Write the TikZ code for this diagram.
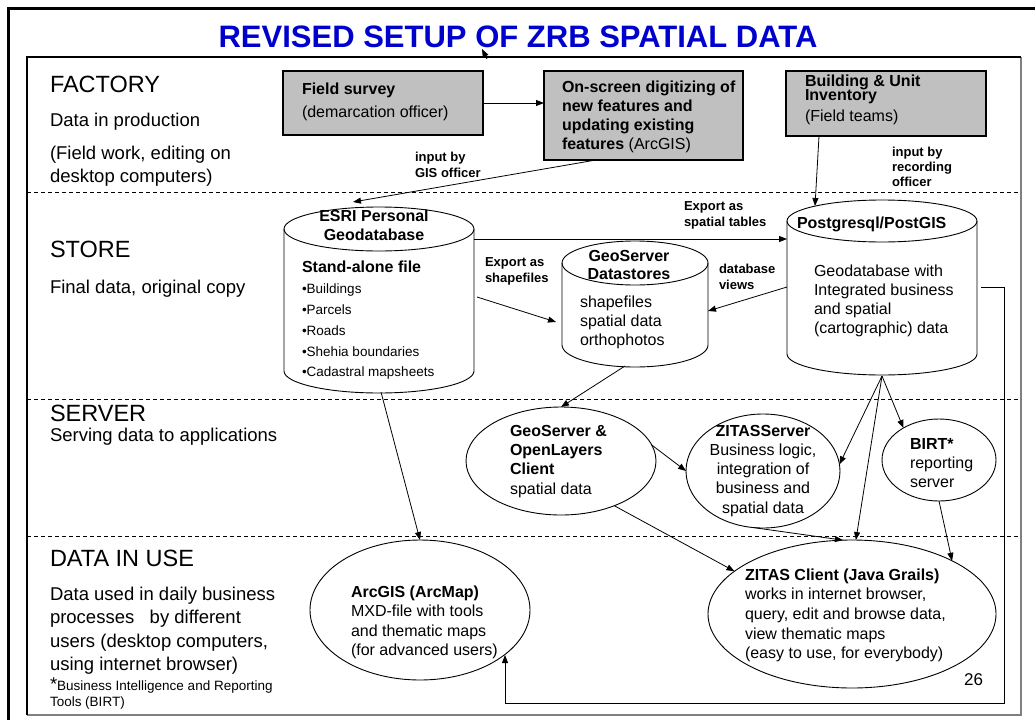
\documentclass[tikz,border=0pt]{standalone}
\usepackage{fontspec}
\setmainfont{Liberation Sans}
\usetikzlibrary{arrows.meta,shapes.geometric}
\newcommand\fsz[1]{\fontsize{#1}{#1}\selectfont}
\definecolor{ttlblue}{RGB}{0,0,204}
\definecolor{boxgray}{RGB}{192,192,192}
\definecolor{edgegray}{RGB}{128,128,128}
\newcommand\mycyl[5]{%
  \filldraw[fill=white, line width=0.9pt] (#1-#4,#2) -- (#1-#4,#3) arc[start angle=180,end angle=0,x radius=#4,y radius=#5] -- (#1+#4,#2);
  \draw[line width=0.9pt] (#1,#2) ellipse[x radius=#4, y radius=#5];}
\begin{document}
\begin{tikzpicture}[x=1pt,y=-1pt,
  txt/.style={inner sep=0, outer sep=0, anchor=base west},
  hdr/.style={txt, font=\fsz{23.5}},
  sub/.style={txt, font=\fsz{18.5}},
  small/.style={txt, font=\fsz{13.5}},
  t16/.style={txt, font=\fsz{16}},
  b16/.style={txt, font=\fsz{16}\bfseries},
  b13/.style={txt, font=\fsz{13}\bfseries},
  ttl/.style={inner sep=0, anchor=base, font=\fsz{31}\bfseries, text=ttlblue},
  graybox/.style={draw, fill=boxgray, inner sep=0, outer sep=0, line width=1.1pt},
  ell/.style={draw, ellipse, inner sep=0, outer sep=0, line width=0.9pt},
  dline/.style={dash pattern=on 4pt off 3pt, line width=0.8pt},
  arr/.style={line width=0.8pt, -{Triangle[length=8pt,width=6pt]}}]
\useasboundingbox (0,0) rectangle (1035,720);
\fill[white] (0,0) rectangle (1035,720);
% frames
\draw[line width=3pt] (8,720) -- (8,8) -- (1035,8);
\draw[edgegray, line width=2pt] (1021,57) -- (1021,715) -- (27,715);
\draw[line width=1.2pt] (27,715) -- (27,57) -- (1021,57);
\foreach \yy in {192,399,536} \draw[dline] (27,\yy) -- (1021,\yy);
% title
\node[ttl] (title) at (518,47) {REVISED SETUP OF ZRB SPATIAL DATA};
\coordinate (sa1) at (487,59);
\coordinate (sa2) at (482,49);
\draw[arr] (sa1) -- (sa2);
% left labels
\node[hdr] (hF) at (50,92) {FACTORY};
\node[sub] (sF1) at (50,126) {Data in production};
\node[sub] (sF2) at (50,159) {(Field work, editing on};
\node[sub] (sF3) at (50,182) {desktop computers)};
\node[hdr] (hS) at (50,257) {STORE};
\node[sub] (sS1) at (50,293) {Final data, original copy};
\node[hdr] (hV) at (50,421) {SERVER};
\node[sub] (sV1) at (50,441) {Serving data to applications};
\node[hdr] (hU) at (50,566) {DATA IN USE};
\node[sub] (sU1) at (50,600) {Data used in daily business};
\node[sub] (sU2) at (50,623) {processes\ \ \ by different};
\node[sub] (sU3) at (50,647) {users (desktop computers,};
\node[sub] (sU4) at (50,670) {using internet browser)};
\node[small] (fn1) at (50,690) {{\fsz{18.5}*}Business Intelligence and Reporting};
\node[small] (fn2) at (50,706) {Tools (BIRT)};
% factory boxes
\node[graybox, minimum width=200pt, minimum height=64pt] (fs) at (383,103) {};
\node[graybox, minimum width=199pt, minimum height=89pt] (os) at (643.5,115.5) {};
\node[graybox, minimum width=200pt, minimum height=65pt] (bu) at (886,103.5) {};
\node[b16] (fsT1) at (302,94) {Field survey};
\node[t16] (fsT2) at (302,117) {(demarcation officer)};
\node[b16] (osT1) at (562,92) {On-screen digitizing of};
\node[b16] (osT2) at (562,111) {new features and};
\node[b16] (osT3) at (562,130) {updating existing};
\node[b16] (osT4) at (562,149) {features {\mdseries (ArcGIS)}};
\node[b16] (buT1) at (805,86) {Building \& Unit};
\node[b16] (buT2) at (805,100) {Inventory};
\node[t16] (buT3) at (805,121) {(Field teams)};
% cylinders
\mycyl{379}{229}{371}{95}{22}
\mycyl{635}{263}{345}{73}{22}
\mycyl{882}{221}{354}{95}{21}
\node[b16, anchor=base] (esT1) at (374,221) {ESRI Personal};
\node[b16, anchor=base] (esT2) at (374,240) {Geodatabase};
\node[b16] (esT3) at (302,272) {Stand-alone file};
\node[small] (esB1) at (302,293) {\textbullet Buildings};
\node[small] (esB2) at (302,314) {\textbullet Parcels};
\node[small] (esB3) at (302,335) {\textbullet Roads};
\node[small] (esB4) at (302,356) {\textbullet Shehia boundaries};
\node[small] (esB5) at (302,376) {\textbullet Cadastral mapsheets};
\node[b16, anchor=base] (gdT1) at (629,261) {GeoServer};
\node[b16, anchor=base] (gdT2) at (629,279) {Datastores};
\node[t16] (gdT3) at (580,307) {shapefiles};
\node[t16] (gdT4) at (580,326) {spatial data};
\node[t16] (gdT5) at (580,345) {orthophotos};
\node[b16] (pgT1) at (797,228) {Postgresql/PostGIS};
\node[t16] (pgT2) at (814,276) {Geodatabase with};
\node[t16] (pgT3) at (814,295) {Integrated business};
\node[t16] (pgT4) at (814,314) {and spatial};
\node[t16] (pgT5) at (814,333) {(cartographic) data};
% ellipses
\node[ell, minimum width=190pt, minimum height=108pt] (gol) at (561,461) {};
\node[ell, minimum width=154pt, minimum height=114pt] (zs) at (763,471) {};
\node[ell, minimum width=114pt, minimum height=82pt] (birt) at (939,460) {};
\node[ell, minimum width=220pt, minimum height=140pt] (arc) at (420,610) {};
\node[ell, minimum width=288pt, minimum height=148pt] (zc) at (852,614) {};
\node[b16] (golT1) at (510,436) {GeoServer \&};
\node[b16] (golT2) at (510,455) {OpenLayers};
\node[b16] (golT3) at (510,474) {Client};
\node[t16] (golT4) at (510,494) {spatial data};
\node[b16, anchor=base] (zsT1) at (763,436) {ZITASServer};
\node[t16, anchor=base] (zsT2) at (763,455) {Business logic,};
\node[t16, anchor=base] (zsT3) at (763,474) {integration of};
\node[t16, anchor=base] (zsT4) at (763,493) {business and};
\node[t16, anchor=base] (zsT5) at (763,513) {spatial data};
\node[b16] (birtT1) at (910,449) {BIRT*};
\node[t16] (birtT2) at (910,468) {reporting};
\node[t16] (birtT3) at (910,487) {server};
\node[b16] (arcT1) at (351,597) {ArcGIS (ArcMap)};
\node[t16] (arcT2) at (351,616.5) {MXD-file with tools};
\node[t16] (arcT3) at (351,636) {and thematic maps};
\node[t16] (arcT4) at (351,655.5) {(for advanced users)};
\node[b16] (zcT1) at (745,580) {ZITAS Client (Java Grails)};
\node[t16] (zcT2) at (745,599) {works in internet browser,};
\node[t16] (zcT3) at (745,619) {query, edit and browse data,};
\node[t16] (zcT4) at (745,639) {view thematic maps};
\node[t16] (zcT5) at (745,658) {(easy to use, for everybody)};
\node[txt, anchor=base east, font=\fsz{17}] (pnum) at (983,685) {26};
% connector labels
\node[b13] (l1a) at (415,161) {input by};
\node[b13] (l1b) at (415,177) {GIS officer};
\node[b13] (l2a) at (892,156) {input by};
\node[b13] (l2b) at (892,171) {recording};
\node[b13] (l2c) at (892,186) {officer};
\node[b13] (l3a) at (684,210) {Export as};
\node[b13] (l3b) at (684,226) {spatial tables};
\node[b13] (l4a) at (485,266) {Export as};
\node[b13] (l4b) at (485,282) {shapefiles};
\node[b13] (l5a) at (719,273) {database};
\node[b13] (l5b) at (719,289) {views};
% connector end points on drawn shapes
\coordinate (esriB) at (381,392);
\coordinate (esriT) at (353,202);
\coordinate (esriR) at (474,239);
\coordinate (esriR2) at (477,297);
\coordinate (pgL) at (787,239);
\coordinate (pgL2) at (787,287);
\coordinate (pgR) at (981,287);
\coordinate (pgT) at (815,206);
\coordinate (pgB) at (882,376);
\coordinate (gdsL) at (556,322);
\coordinate (gdsR) at (708,311);
\coordinate (gdsB) at (625,366);
\coordinate (osB) at (596,160);
\coordinate (buB) at (819,136);
\coordinate (corner1) at (1004,703);
\coordinate (arcIn) at (505,655);
% connectors
\draw[arr] (fs.east) -- (fs.east -| os.west);
\draw[arr] (osB) -- (esriT);
\draw[arr] (buB) -- (pgT);
\draw[arr] (esriR) -- (pgL);
\draw[arr] (esriR2) -- (gdsL);
\draw[arr] (pgL2) -- (gdsR);
\draw[arr] (gdsB) -- (gol.north);
\draw[arr] (esriB) -- (arc.north);
\draw[arr] (gol.10) -- (zs.west);
\draw[arr] (gol.-40) -- (zc.160);
\draw[arr] (zs.-100) -- (zc.97);
\draw[arr] (pgB) -- (zs.5);
\draw[arr] (pgB) -- (zc.87);
\draw[arr] (pgB) -- (birt.138);
\draw[arr] (birt.south) -- (zc.28);
\draw[arr] (pgR) -| (corner1) -| (arcIn);
\end{tikzpicture}
\end{document}
